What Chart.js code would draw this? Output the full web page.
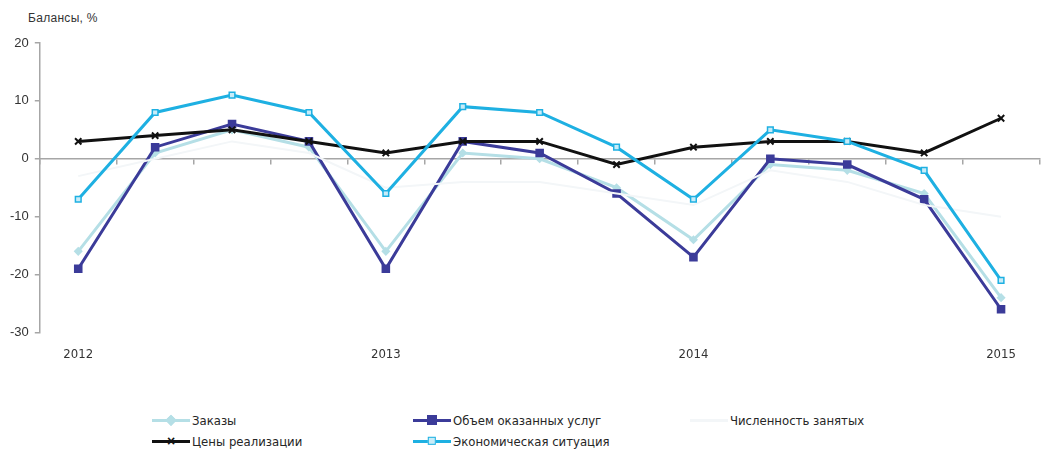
<!DOCTYPE html>
<html>
<head>
<meta charset="utf-8">
<script src="https://cdn.jsdelivr.net/npm/chart.js@4/dist/chart.umd.min.js"></script>
<style>
  html, body { margin: 0; padding: 0; background: #fff; }
  body { width: 1046px; height: 450px; position: relative; overflow: hidden;
         font-family: "Liberation Sans Narrow", "DejaVu Sans Condensed", "Liberation Sans", sans-serif; color: #262626; }
  #title { position: absolute; left: 28px; top: 11px; font-size: 12px; font-family: "Liberation Sans", sans-serif; letter-spacing: 0.3px; color: #333; }
  #wrap { position: absolute; left: 0; top: 0; width: 1046px; height: 368px; }
  #legend { position: absolute; left: 0; top: 410px; width: 1046px; height: 40px; font-size: 13px; }
  .item { position: absolute; height: 20px; display: flex; align-items: center; white-space: nowrap; }
  .sample { position: relative; width: 38px; height: 12px; margin-right: 2px; }
  .sample .ln { position: absolute; left: 0; right: 0; top: 4.5px; height: 3px; }
  .sample .mk { position: absolute; left: 50%; top: 50%; transform: translate(-50%, -50%); }
</style>
</head>
<body>
<div id="title">Балансы, %</div>
<div id="wrap"><canvas id="c"></canvas></div>
<div id="legend"></div>
<script>
// ---- data ----
const quarters = ['2012 I','2012 II','2012 III','2012 IV','2013 I','2013 II','2013 III','2013 IV','2014 I','2014 II','2014 III','2014 IV','2015 I'];
const yearLabels = ['2012','','','','2013','','','','2014','','','','2015'];
const seriesNames = ['Заказы','Объем оказанных услуг','Численность занятых','Цены реализации','Экономическая ситуация'];
const orders      = [-16, 1, 5, 2, -16, 1, 0, -5, -14, -1, -2, -6, -24];
const services    = [-19, 2, 6, 3, -19, 3, 1, -6, -17, 0, -1, -7, -26];
const employment  = [-3, 0, 3, 1, -5, -4, -4, -6, -8, -2, -4, -8, -10];
const prices      = [3, 4, 5, 3, 1, 3, 3, -1, 2, 3, 3, 1, 7];
const economy     = [-7, 8, 11, 8, -6, 9, 8, 2, -7, 5, 3, -2, -21];
const yTicks      = [-30, -20, -10, 0, 10, 20];

// ---- styles ----
const styles = [
  { color: '#b5dfe6', fill: '#b5dfe6', point: 'rectRot', radius: 3.5, width: 3 },
  { color: '#3b3b99', fill: '#3b3b99', point: 'rect', radius: 5, width: 3 },
  { color: '#f3f6f8', fill: '#f3f6f8', point: 'circle', radius: 0, width: 2 },
  { color: '#111111', fill: '#111111', point: 'crossRot', radius: 4.5, width: 3 },
  { color: '#1eb0e2', fill: '#c8ecf8', point: 'rect', radius: 4, width: 3 }
];
const values = [orders, services, employment, prices, economy];

const datasets = values.map((v, i) => ({
  label: seriesNames[i],
  data: v,
  borderColor: styles[i].color,
  backgroundColor: styles[i].fill,
  borderWidth: styles[i].width,
  pointStyle: styles[i].point,
  pointRadius: styles[i].radius,
  pointBorderColor: styles[i].color,
  pointBackgroundColor: styles[i].fill,
  pointBorderWidth: i === 3 ? 2 : 1.5,
  tension: 0,
  order: values.length - i,
  xAxisID: 'x'
}));

new Chart(document.getElementById('c'), {
  type: 'line',
  data: { labels: quarters, datasets },
  options: {
    responsive: true,
    maintainAspectRatio: false,
    animation: false,
    layout: { padding: { top: 43, right: 0, left: 4, bottom: 0 } },
    plugins: { legend: { display: false }, tooltip: { enabled: false } },
    scales: {
      x: {
        type: 'category',
        position: { y: 0 },
        offset: true,
        grid: { display: true, offset: true, drawOnChartArea: false, drawTicks: true, tickLength: 5, color: '#a6a6a6', lineWidth: 1.5 },
        border: { display: true, color: '#a6a6a6', width: 1.5 },
        ticks: { display: false }
      },
      x2: {
        type: 'category',
        position: 'bottom',
        offset: true,
        grid: { display: false },
        border: { display: false },
        ticks: {
          autoSkip: false, maxRotation: 0, padding: 6,
          color: '#333',
          font: { family: '"Liberation Sans Narrow", "DejaVu Sans Condensed", sans-serif', size: 13 },
          callback: (val, idx) => yearLabels[idx]
        }
      },
      y: {
        min: -30, max: 20,
        afterBuildTicks: (axis) => { axis.ticks = yTicks.map(v => ({ value: v })); },
        grid: { drawOnChartArea: false, drawTicks: true, tickLength: 5, color: '#a6a6a6', lineWidth: 1.5 },
        border: { display: true, color: '#a6a6a6', width: 1.5 },
        ticks: { color: '#333', padding: 6, font: { family: '"Liberation Sans", sans-serif', size: 13 } }
      }
    }
  }
});

// ---- HTML legend ----
const legendPos = [
  { left: 152, top: 0 }, { left: 413, top: 0 }, { left: 690, top: 0 },
  { left: 152, top: 21 }, { left: 413, top: 21 }
];
const legend = document.getElementById('legend');
seriesNames.forEach((name, i) => {
  const s = styles[i];
  const item = document.createElement('div');
  item.className = 'item';
  item.style.left = legendPos[i].left + 'px';
  item.style.top = legendPos[i].top + 'px';
  const sample = document.createElement('div');
  sample.className = 'sample';
  const ln = document.createElement('div');
  ln.className = 'ln';
  ln.style.background = s.color;
  sample.appendChild(ln);
  if (s.radius > 0) {
    const mk = document.createElement('div');
    mk.className = 'mk';
    if (s.point === 'crossRot') {
      mk.textContent = '×';
      mk.style.font = 'bold 14px sans-serif';
      mk.style.color = s.color;
      mk.style.lineHeight = '12px';
    } else {
      const sz = s.radius * 1.6;
      mk.style.width = sz + 'px';
      mk.style.height = sz + 'px';
      mk.style.background = s.fill;
      mk.style.border = '1.5px solid ' + s.color;
      if (s.point === 'rectRot') mk.style.transform = 'translate(-50%, -50%) rotate(45deg)';
    }
    sample.appendChild(mk);
  }
  item.appendChild(sample);
  const t = document.createElement('span');
  t.textContent = name;
  item.appendChild(t);
  legend.appendChild(item);
});
</script>
</body>
</html>
